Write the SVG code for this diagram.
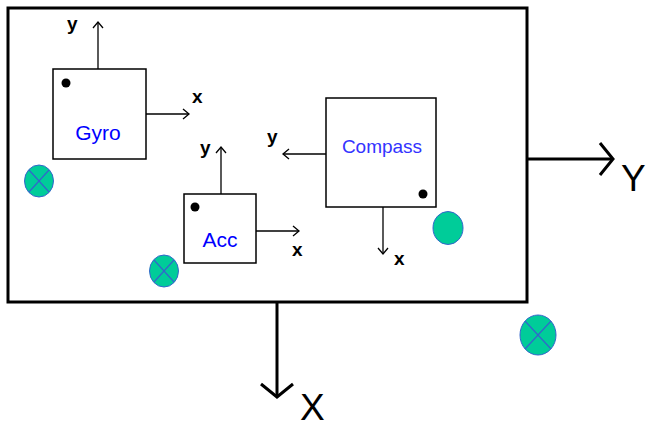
<svg xmlns="http://www.w3.org/2000/svg" width="649" height="427" viewBox="0 0 649 427">
<style>
.box{fill:#fff;stroke:#000;stroke-width:1.5}
.ax{stroke:#000;stroke-width:1.3;fill:none}
.big{stroke:#000;stroke-width:3;fill:none}
.lbl{font-family:"Liberation Sans",Arial,sans-serif;font-weight:bold;font-size:19px;fill:#000}
.name{font-family:"Liberation Sans",Arial,sans-serif;font-size:21px;fill:#0000ff;text-anchor:middle}
.dot{fill:#000}
.mag{fill:#00cc99;stroke:#3366cc;stroke-width:1}
.cross{stroke:#3366cc;stroke-width:1.2}
</style>
<defs>
<marker id="ah" markerUnits="userSpaceOnUse" orient="auto" markerWidth="20" markerHeight="20" viewBox="-10 -10 20 20" refX="0" refY="0" overflow="visible">
<path d="M-6,-5 L0,0 L-6,5" fill="none" stroke="#000" stroke-width="1.3"/>
</marker>
<marker id="bh" markerUnits="userSpaceOnUse" orient="auto" markerWidth="40" markerHeight="40" viewBox="-20 -20 40 40" refX="0" refY="0" overflow="visible">
<path d="M-13,-16 L0,0 L-13,16" fill="none" stroke="#000" stroke-width="3"/>
</marker>
</defs>
<rect x="0" y="0" width="649" height="427" fill="#fff"/>
<g id="board">
<rect x="8" y="8" width="519" height="294" fill="#fff" stroke="#000" stroke-width="3"/>
</g>
<g id="connectors">
<line class="ax" x1="98" y1="69" x2="98" y2="22" marker-end="url(#ah)"/>
<line class="ax" x1="146" y1="114" x2="189" y2="114" marker-end="url(#ah)"/>
<line class="ax" x1="221" y1="194" x2="221" y2="147" marker-end="url(#ah)"/>
<line class="ax" x1="256" y1="231" x2="299" y2="231" marker-end="url(#ah)"/>
<line class="ax" x1="326" y1="154" x2="283" y2="154" marker-end="url(#ah)"/>
<line class="ax" x1="383" y1="207" x2="383" y2="254" marker-end="url(#ah)"/>
<line class="big" x1="527" y1="159" x2="613" y2="159" marker-end="url(#bh)"/>
<line class="big" x1="277" y1="302" x2="277" y2="397" marker-end="url(#bh)"/>
</g>
<g id="gyro">
<rect class="box" x="53" y="69" width="93" height="90"/>
<circle class="dot" cx="66" cy="83" r="4.5"/>
<text class="name" x="98" y="140">Gyro</text>
<text class="lbl" x="67" y="30">y</text>
<text class="lbl" x="192" y="103">x</text>
</g>
<g id="acc">
<rect class="box" x="184" y="194" width="72" height="69"/>
<circle class="dot" cx="195" cy="207" r="4.5"/>
<text class="name" x="220" y="247">Acc</text>
<text class="lbl" x="200" y="154">y</text>
<text class="lbl" x="292" y="256">x</text>
</g>
<g id="compass">
<rect class="box" x="326" y="98" width="110" height="109"/>
<circle class="dot" cx="423" cy="194" r="4.5"/>
<text class="name" x="382" y="153" style="fill:#3333ff;font-size:19px">Compass</text>
<text class="lbl" x="267" y="143">y</text>
<text class="lbl" x="394" y="265">x</text>
</g>
<g id="mag1">
<ellipse class="mag" cx="39" cy="181" rx="14.5" ry="16"/>
<line class="cross" x1="29" y1="170" x2="49" y2="192"/>
<line class="cross" x1="49" y1="170" x2="29" y2="192"/>
</g>
<g id="mag2">
<ellipse class="mag" cx="164" cy="271" rx="14.5" ry="16"/>
<line class="cross" x1="154" y1="260" x2="174" y2="282"/>
<line class="cross" x1="174" y1="260" x2="154" y2="282"/>
</g>
<g id="mag3">
<ellipse class="mag" cx="448" cy="228" rx="15" ry="16.5"/>
</g>
<g id="mag4">
<ellipse class="mag" cx="538" cy="335" rx="18" ry="20"/>
<line class="cross" x1="525" y1="321" x2="551" y2="349"/>
<line class="cross" x1="551" y1="321" x2="525" y2="349"/>
</g>
<g id="labels">
<text x="621" y="191" style="font-family:'Liberation Sans',Arial,sans-serif;font-size:37px;fill:#000">Y</text>
<text x="300" y="420" style="font-family:'Liberation Sans',Arial,sans-serif;font-size:37px;fill:#000">X</text>
</g>
</svg>
